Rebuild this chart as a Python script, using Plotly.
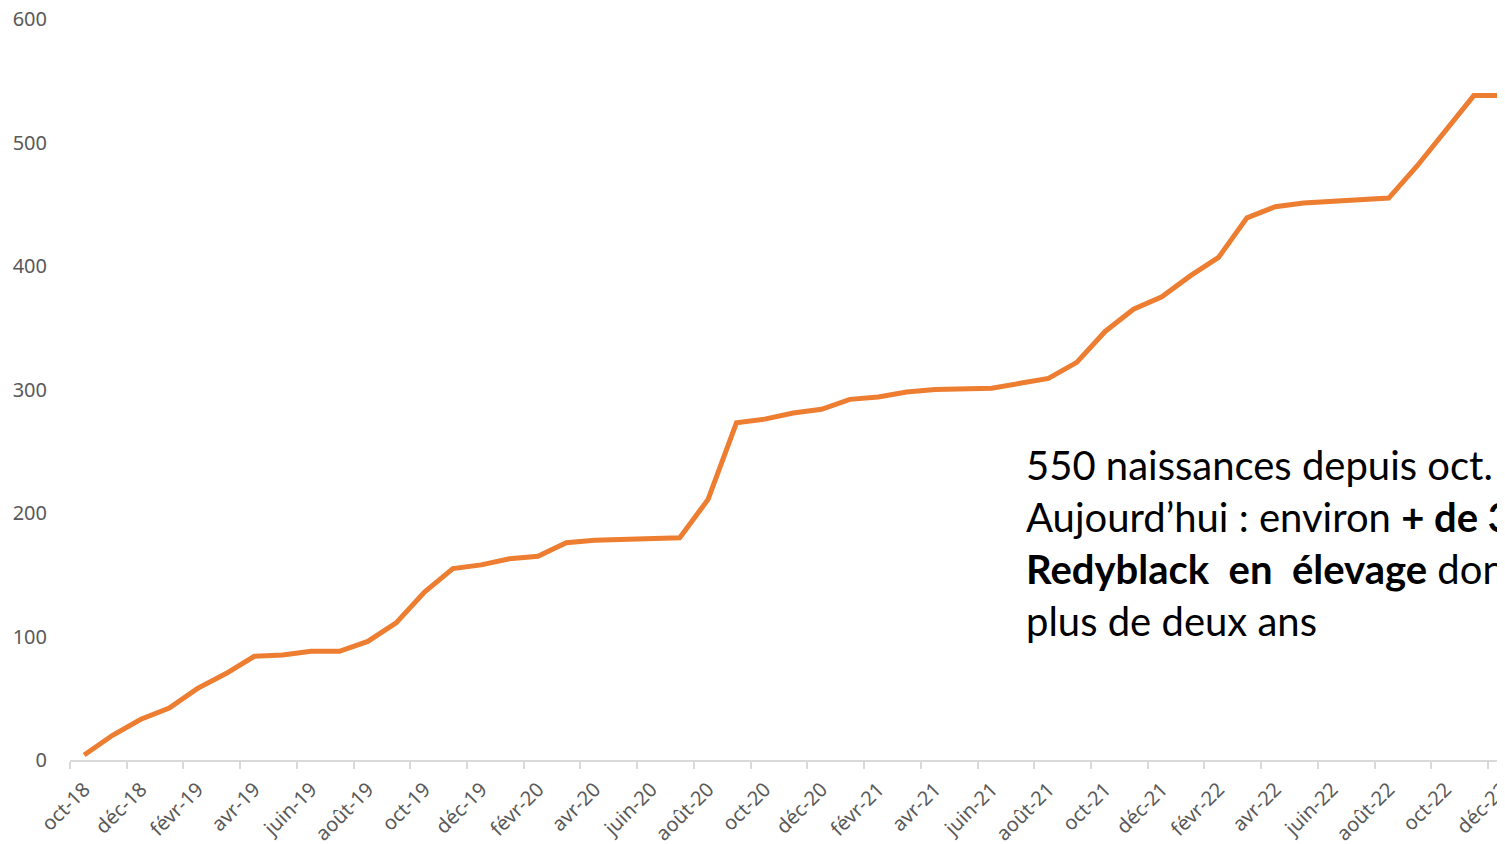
import plotly.graph_objects as go

months = ["oct-18", "nov-18", "déc-18", "janv-19", "févr-19", "mars-19", "avr-19", "mai-19",
          "juin-19", "juil-19", "août-19", "sept-19", "oct-19", "nov-19", "déc-19", "janv-20",
          "févr-20", "mars-20", "avr-20", "mai-20", "juin-20", "juil-20", "août-20", "sept-20",
          "oct-20", "nov-20", "déc-20", "janv-21", "févr-21", "mars-21", "avr-21", "mai-21",
          "juin-21", "juil-21", "août-21", "sept-21", "oct-21", "nov-21", "déc-21", "janv-22",
          "févr-22", "mars-22", "avr-22", "mai-22", "juin-22", "juil-22", "août-22", "sept-22",
          "oct-22", "nov-22", "déc-22"]

naissances = [4, 20, 33, 42, 58, 70, 84, 85, 88, 88, 96, 111, 136, 155, 158, 163,
              165, 176, 178, 179, 179, 180, 211, 273, 276, 281, 284, 292, 294, 298,
              300, 301, 301, 305, 309, 322, 347, 365, 375, 392, 407, 439, 448, 451,
              452, 454, 455, 481, 510, 538, 538]

tick_labels = months[::2]
y_ticks = [0, 100, 200, 300, 400, 500, 600]

fig = go.Figure()
fig.add_trace(go.Scatter(
    x=months, y=naissances, mode="lines",
    line=dict(color="#ED7D31", width=5),
    hoverinfo="x+y", showlegend=False, cliponaxis=False,
))

NB = "\u00a0"
text = ("550 naissances depuis oct. 2018<br>"
        "Aujourd’hui : environ <b>+ de 300</b><br>"
        f"<b>Redyblack{NB} en{NB} élevage</b> dont<br>"
        "plus de deux ans")

fig.add_annotation(
    xref="paper", yref="paper", x=(1024 - 70) / 1435, y=(760 - 439) / 741,
    xanchor="left", yanchor="top", align="left", showarrow=False,
    text=text, font=dict(family="Lato", size=40, color="#000000"),
)

# page body has an 8px margin: shift figure so the plot area matches the reference
fig.update_layout(
    width=1497, height=836,
    margin=dict(l=62, r=0, t=11, b=84, autoexpand=False),
    paper_bgcolor="white", plot_bgcolor="white",
    font=dict(family="Noto Sans", size=20, color="#595959"),
    xaxis=dict(
        type="category", categoryorder="array", categoryarray=months,
        range=[-0.5, 50.1], automargin=False,
        tickmode="array", tickvals=tick_labels, ticktext=tick_labels,
        tickson="boundaries", ticks="outside", ticklen=7, tickcolor="#D9D9D9", tickwidth=1.5,
        tickangle=-45, showgrid=False, zeroline=False, ticklabelstandoff=8,
        showline=True, linecolor="#D9D9D9", linewidth=1.5,
        tickfont=dict(family="Noto Sans", size=20, color="#595959"),
    ),
    yaxis=dict(
        range=[0, 600], tickvals=y_ticks, showgrid=False, zeroline=False, automargin=False,
        showline=False, ticks="", ticklabelstandoff=22, ticklabeloverflow="allow",
        tickfont=dict(family="Noto Sans", size=20, color="#595959"),
    ),
)

fig.write_html("out.html")
